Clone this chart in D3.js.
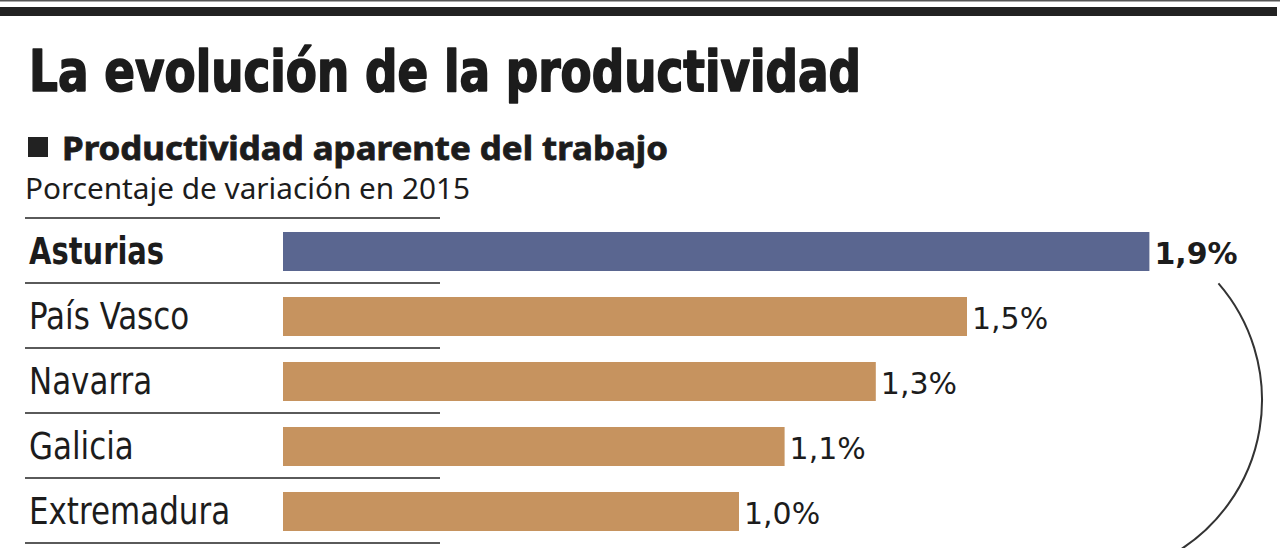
<!DOCTYPE html>
<html><head><meta charset="utf-8">
<script src="https://cdn.jsdelivr.net/npm/d3@7"></script>
<style>
html,body{margin:0;padding:0;background:#fff;}
svg{display:block;}
text{font-family:"Noto Sans","Open Sans",sans-serif;fill:#1c1c1c;}
</style></head>
<body>
<script>
const categories = ["Asturias", "País Vasco", "Navarra", "Galicia", "Extremadura"];
const values = [1.9, 1.5, 1.3, 1.1, 1.0];
const valueLabels = ["1,9%", "1,5%", "1,3%", "1,1%", "1,0%"];
const highlight = "Asturias";
const title = "La evolución de la productividad";
const subtitle = "Productividad aparente del trabajo";
const unitNote = "Porcentaje de variación en 2015";

const W = 1280, H = 548;
const svg = d3.select("body").append("svg").attr("width", W).attr("height", H);

// top rules
svg.append("rect").attr("x",0).attr("y",0).attr("width",W).attr("height",1.5).attr("fill","#555");
svg.append("rect").attr("x",0).attr("y",7).attr("width",1277).attr("height",9).attr("fill","#222");

// title
svg.append("text").attr("x",29).attr("y",91)
  .attr("font-size",57).attr("font-weight",700)
  .style("font-family","'DejaVu Sans Condensed','DejaVu Sans',sans-serif")
  .style("stroke","#1c1c1c").style("stroke-width",1.6).style("stroke-linejoin","round")
  .attr("textLength",832).attr("lengthAdjust","spacingAndGlyphs")
  .text(title);

// subtitle
svg.append("rect").attr("x",28).attr("y",137).attr("width",20).attr("height",20).attr("fill","#222");
svg.append("text").attr("x",62).attr("y",160)
  .attr("font-size",33).attr("font-weight",700)
  .style("stroke","#1c1c1c").style("stroke-width",0.8)
  .attr("textLength",606).attr("lengthAdjust","spacingAndGlyphs")
  .text(subtitle);
svg.append("text").attr("x",25).attr("y",199)
  .attr("font-size",29).attr("font-weight",400)
  .attr("textLength",445).attr("lengthAdjust","spacingAndGlyphs")
  .text(unitNote);

// scales
const x = d3.scaleLinear().domain([0, 1]).range([283, 739]);
const rowBand = d3.scaleBand().domain(categories).range([218, 543]);

// row separator lines
const lineYs = [218].concat(categories.map(c => rowBand(c) + rowBand.bandwidth()));
svg.selectAll("line.sep").data(lineYs).enter().append("line")
  .attr("x1",25).attr("x2",440).attr("y1",d=>d).attr("y2",d=>d)
  .attr("stroke","#5a5a5a").attr("stroke-width",2);

const rows = categories.map((c,i)=>({c, v:values[i], lab:valueLabels[i]}));

svg.selectAll("rect.bar").data(rows).enter().append("rect")
  .attr("x", x(0)).attr("y", d => rowBand(d.c) + 14)
  .attr("width", d => x(d.v) - x(0)).attr("height", 39)
  .attr("fill", d => d.c === highlight ? "#5a6690" : "#c6935f");

const cats = svg.selectAll("text.cat").data(rows).enter().append("text")
  .attr("x", 29).attr("y", d => rowBand(d.c) + rowBand.bandwidth()/2 + 13)
  .attr("font-size", 37)
  .attr("font-weight", d => d.c === highlight ? 700 : 400)
  .style("font-family","'DejaVu Sans Condensed','DejaVu Sans',sans-serif")
  .text(d => d.c);
// condense horizontally to match the narrow newspaper face
cats.each(function(d){
  const k = d.c === highlight ? 0.87 : 0.93;
  const w = this.getComputedTextLength();
  d3.select(this).attr("textLength", w*k).attr("lengthAdjust","spacingAndGlyphs");
});

svg.selectAll("text.val").data(rows).enter().append("text")
  .attr("x", d => x(d.v) + 5).attr("y", d => rowBand(d.c) + rowBand.bandwidth()/2 + 13)
  .attr("font-size", 30)
  .attr("font-weight", d => d.c === highlight ? 700 : 400)
  .style("font-family","'DejaVu Sans',sans-serif")
  .text(d => d.lab);

// bracket arc
const p = d3.path();
const cx = 1084, cy = 400, r = 178;
const a0 = Math.atan2(282 - cy, 1220 - cx);
const a1 = Math.atan2(548 - cy, 1170 - cx);
p.arc(cx, cy, r, a0, a1, false);
svg.append("path").attr("d", p.toString()).attr("fill","none").attr("stroke","#333").attr("stroke-width",2);
</script>
</body></html>
